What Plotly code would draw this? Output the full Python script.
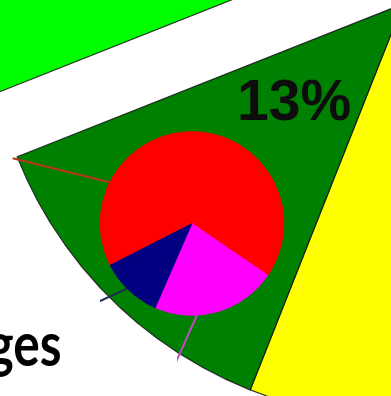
import numpy as np
import plotly.graph_objects as go

# ---- data -------------------------------------------------------------
# Outer pie: percentage shares, drawn clockwise from 12 o'clock
outer_labels = ["Segment A", "Segment B", "Segment C", "Segment D"]
outer_values = [30, 26, 13, 31]
outer_colors = ["#4472C4", "#FFFF00", "#008000", "#00FF00"]
outer_pull = [0.0, 0.0, 0.0, 0.195]
outer_label_shown = "Segment C"

# Inner (detail) pie: percentage shares, clockwise
inner_labels = ["Part 1", "Part 2", "Part 3"]
inner_values = [67, 22, 11]
inner_colors = ["#FF0000", "#FF00FF", "#000080"]
inner_leader_colors = ["#B8341E", "#C24AC2", "#1C2B4F"]

caption_text = "ges"

# ---- layout geometry (pixel-like axis units, y grows downward) ---------
W, H = 391, 396
OUT_CX, OUT_CY, OUT_R = 403.0, 4.0, 415.0
OUT_START = 90.0          # degrees, counter-clockwise from +x
IN_CX, IN_CY, IN_R = 192.0, 223.5, 92.0
IN_START = 207.0

# leader lines: (rim angle, direction angle, length) for each inner slice
leader_geom = [(153.4, 166.1, 100.0), (273.0, 246.0, 60.0), (225.0, 204.8, 60.0)]


def slice_angles(values, start):
    total = float(sum(values))
    edges = [start]
    for v in values:
        edges.append(edges[-1] - 360.0 * v / total)
    return list(zip(edges[:-1], edges[1:]))


def wedge(cx, cy, r, a0, a1, n=240):
    t = np.radians(np.linspace(a0, a1, n))
    xs = np.concatenate([[cx], cx + r * np.cos(t), [cx]])
    ys = np.concatenate([[cy], cy - r * np.sin(t), [cy]])
    return xs, ys


fig = go.Figure()

# outer pie
for lab, val, col, pull, (a0, a1) in zip(outer_labels, outer_values, outer_colors,
                                          outer_pull, slice_angles(outer_values, OUT_START)):
    mid = np.radians((a0 + a1) / 2.0)
    cx = OUT_CX + pull * OUT_R * np.cos(mid)
    cy = OUT_CY - pull * OUT_R * np.sin(mid)
    xs, ys = wedge(cx, cy, OUT_R, a0, a1)
    fig.add_trace(go.Scatter(x=xs, y=ys, mode="lines", fill="toself", fillcolor=col,
                             line=dict(color="rgba(20,20,20,0.85)", width=1.2),
                             name=lab, hoverinfo="skip"))
    if lab == outer_label_shown:
        fig.add_annotation(x=293.5, y=100, xref="x", yref="y", text=f"{val}%",
                           showarrow=False, xanchor="center", yanchor="middle",
                           font=dict(family="Liberation Sans, Arial", size=57,
                                     color="#0d0d0d", weight="bold"))

# inner pie
in_angles = slice_angles(inner_values, IN_START)
for lab, col, (a0, a1) in zip(inner_labels, inner_colors, in_angles):
    xs, ys = wedge(IN_CX, IN_CY, IN_R, a0, a1)
    fig.add_trace(go.Scatter(x=xs, y=ys, mode="lines", fill="toself", fillcolor=col,
                             line=dict(color=col, width=0.6),
                             name=lab, hoverinfo="skip"))

# leader lines from the inner slices
for col, (rim, direc, length) in zip(inner_leader_colors, leader_geom):
    x0 = IN_CX + IN_R * np.cos(np.radians(rim))
    y0 = IN_CY - IN_R * np.sin(np.radians(rim))
    x1 = x0 + length * np.cos(np.radians(direc))
    y1 = y0 - length * np.sin(np.radians(direc))
    fig.add_trace(go.Scatter(x=[x0, x1], y=[y0, y1], mode="lines",
                             line=dict(color=col, width=2), hoverinfo="skip",
                             showlegend=False))

# white text-box fill covering the lower-left corner
for bx1, by0 in [(100, 290), (177, 356)]:
    fig.add_shape(type="rect", xref="x", yref="y", x0=-20, x1=bx1, y0=by0, y1=H + 20,
                  fillcolor="white", line=dict(width=0), layer="above")

fig.add_annotation(x=64, y=342, xref="x", yref="y", text=caption_text,
                   showarrow=False, xanchor="right", yanchor="middle",
                   font=dict(family="Lato, Open Sans", size=62, color="#000000",
                             weight="bold"))

fig.update_layout(
    width=W, height=H, margin=dict(l=0, r=0, t=0, b=0),
    paper_bgcolor="white", plot_bgcolor="white", showlegend=False,
    xaxis=dict(range=[0, W], visible=False, fixedrange=True),
    yaxis=dict(range=[H, 0], visible=False, fixedrange=True),
)

# the caption uses a condensed setting: narrow its glyphs around the right edge
narrow_caption = """
var gd = document.getElementById('{plot_id}');
gd.querySelectorAll('.annotation-text').forEach(function (t) {
  if (t.textContent === '%s') {
    t.style.transformBox = 'fill-box';
    t.style.transformOrigin = '100%% 50%%';
    t.style.transform = 'scaleX(0.8)';
  }
});
""" % caption_text

fig.write_html("out.html", post_script=narrow_caption)
